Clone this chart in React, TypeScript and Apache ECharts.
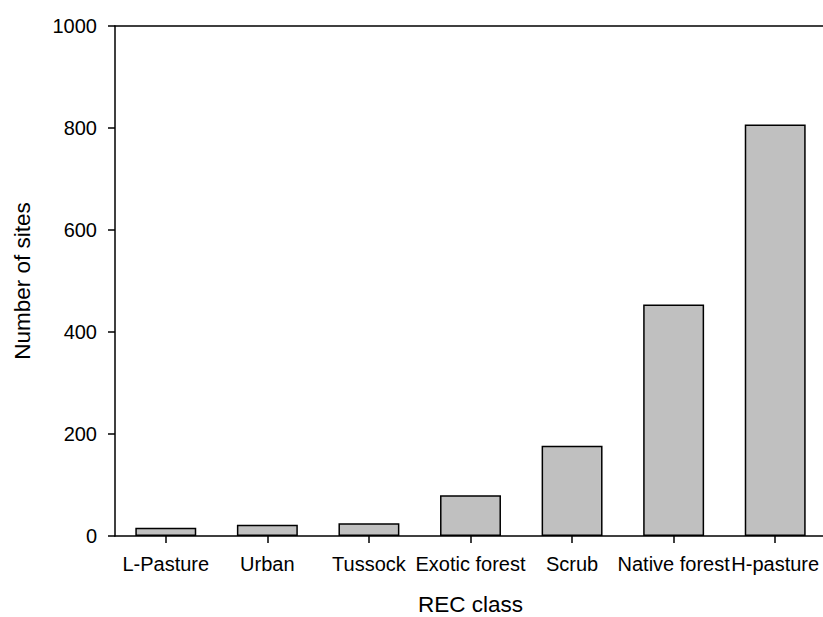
import React, { useEffect, useRef } from "react";
import * as echarts from "echarts";

const categories = ["L-Pasture", "Urban", "Tussock", "Exotic forest", "Scrub", "Native forest", "H-pasture"];
const siteCounts = [16, 22, 25, 80, 177, 454, 807];
const yTicks = [0, 200, 400, 600, 800, 1000];

const FONT = "'Liberation Sans', Arial, Helvetica, sans-serif";

export default function App() {
  const ref = useRef<HTMLDivElement>(null);
  useEffect(() => {
    if (!ref.current) return;
    const chart = echarts.init(ref.current, undefined, { renderer: "svg" });
    chart.setOption({
      animation: false,
      backgroundColor: "#ffffff",
      grid: { left: 115, top: 26, width: 711, height: 510, containLabel: false, outerBoundsMode: "none" },
      xAxis: [
        {
          type: "category",
          data: categories,
          position: "bottom",
          boundaryGap: true,
          name: "REC class",
          nameLocation: "middle",
          nameGap: 57,
          nameTextStyle: { fontFamily: FONT, fontSize: 22.5, color: "#000" },
          axisLine: { show: true, lineStyle: { color: "#000", width: 1.5 } },
          axisTick: { show: true, alignWithLabel: true, length: 7, lineStyle: { color: "#000", width: 1.5 } },
          axisLabel: { fontFamily: FONT, fontSize: 20, color: "#000", margin: 18, interval: 0 },
          splitLine: { show: false },
        },
        {
          type: "category",
          data: categories,
          position: "top",
          axisLine: { show: true, lineStyle: { color: "#000", width: 1.5 } },
          axisTick: { show: false },
          axisLabel: { show: false },
          splitLine: { show: false },
        },
      ],
      yAxis: {
        type: "value",
        min: 0,
        max: 1000,
        interval: 200,
        name: "Number of sites",
        nameLocation: "middle",
        nameGap: 81,
        nameTextStyle: { fontFamily: FONT, fontSize: 22.5, color: "#000" },
        axisLine: { show: true, onZero: false, lineStyle: { color: "#000", width: 1.5 } },
        axisTick: { show: true, length: 7, lineStyle: { color: "#000", width: 1.5 } },
        axisLabel: {
          fontFamily: FONT,
          fontSize: 20,
          color: "#000",
          margin: 18,
          formatter: (v: number) => (yTicks.includes(v) ? String(v) : ""),
        },
        splitLine: { show: false },
      },
      series: [
        {
          type: "bar",
          data: siteCounts,
          xAxisIndex: 0,
          barWidth: "60%",
          itemStyle: { color: "#c0c0c0", borderColor: "#000", borderWidth: 1.5 },
        },
      ],
    });
    return () => chart.dispose();
  }, []);
  return (
    <div
      ref={ref}
      style={{ position: "fixed", left: 0, top: 0, width: 823, height: 617, background: "#fff" }}
    />
  );
}
